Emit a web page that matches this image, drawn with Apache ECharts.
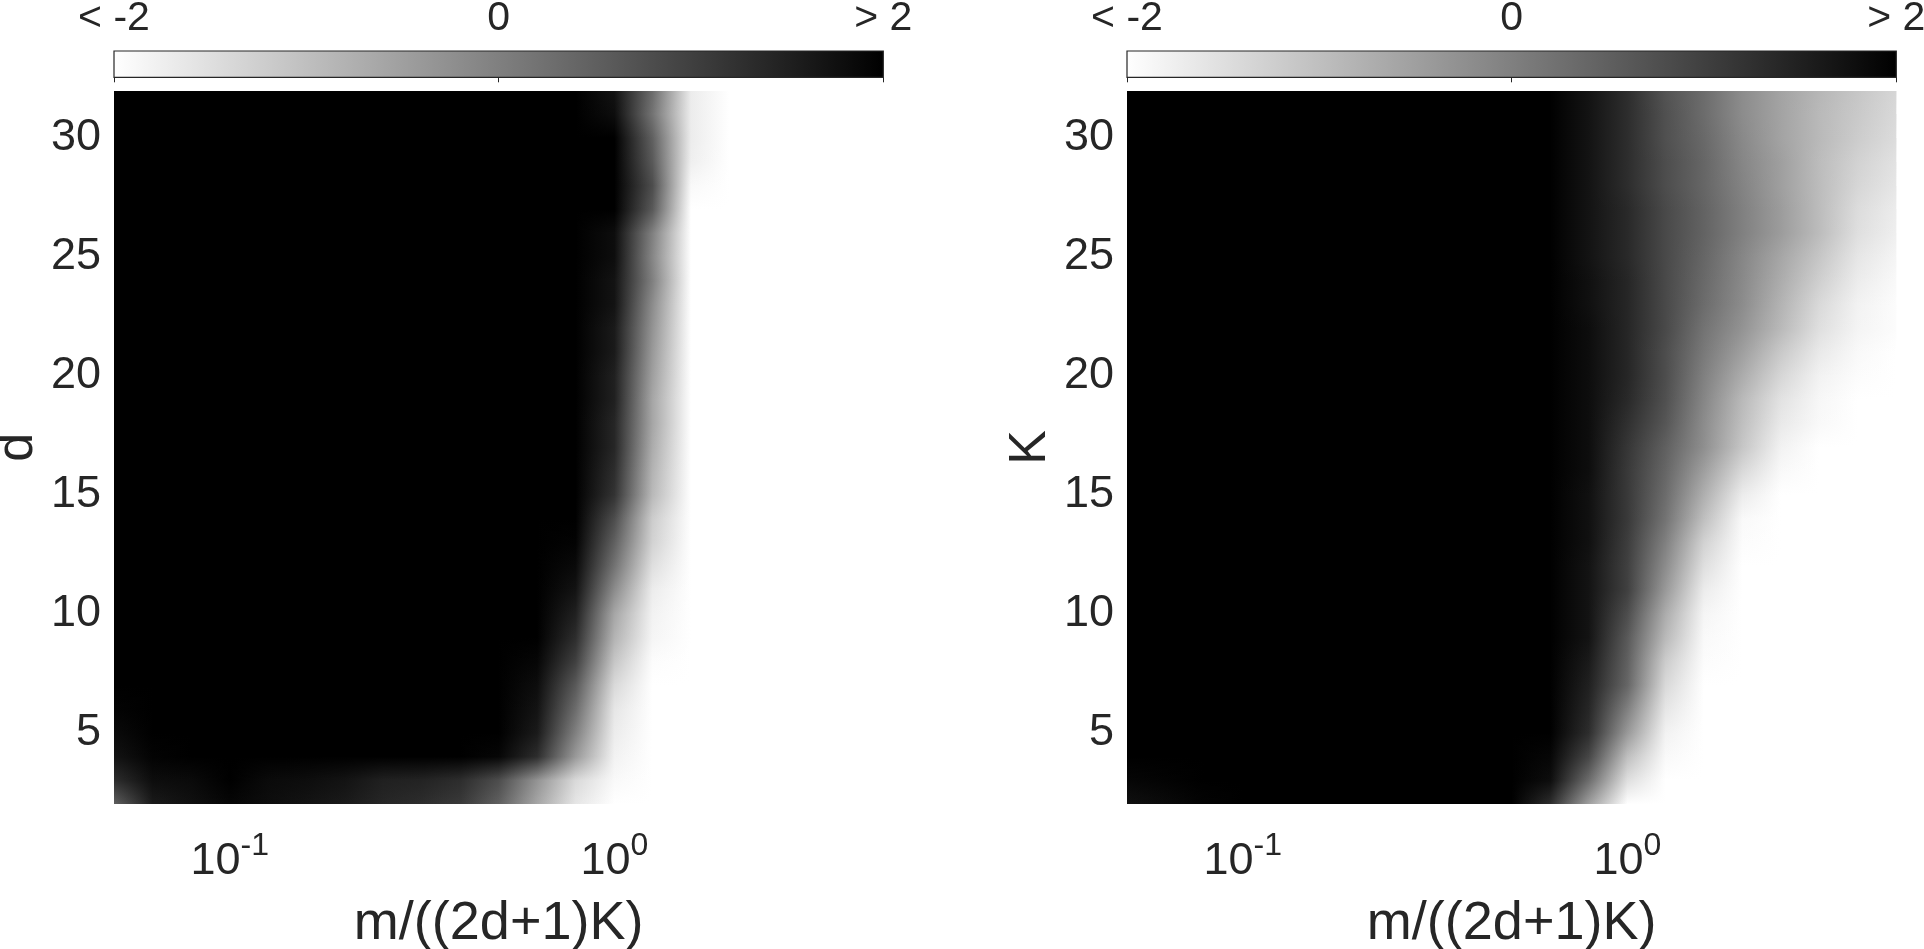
<!DOCTYPE html>
<html>
<head>
<meta charset="utf-8">
<script src="https://cdn.jsdelivr.net/npm/echarts@6/dist/echarts.min.js"></script>
<style>
html,body{margin:0;padding:0;background:#ffffff;}
#chart{width:1924px;height:949px;}
</style>
</head>
<body>
<div id="chart"></div>
<script>
// ---------------- data ----------------
// x nodes (m/((2d+1)K)), log-spaced grid used for reading the image
const xNodes = [0.05, 0.063, 0.0792, 0.1, 0.1256, 0.1581, 0.1991, 0.2506, 0.3155, 0.3972, 0.5,
                0.6295, 0.7924, 1, 1.2559, 1.5811, 1.9905, 2.5059, 3.1548, 3.9716, 5];
// y rows (d for left panel, K for right panel)
const yRows = [2,3,4,5,6,7,8,9,10,11,12,13,14,15,16,17,18,19,20,21,22,23,24,25,26,27,28,29,30,31,32];

// left panel values (one row per y, bottom to top; one value per x node), clipped to [-2, 2]
const leftValues = [
  [0.5,1.6,1.75,1.9,1.8,1.7,1.6,1.4,1.3,1.1,0.5,-0.6,-1.6,-2,-2,-2,-2,-2,-2,-2,-2],
  [1.3,1.8,1.85,2,1.85,1.8,1.7,1.5,1.45,1.3,0.8,-0.3,-1.4,-1.9,-2,-2,-2,-2,-2,-2,-2],
  [1.7,1.95,2,2,2,2,2,2,2,2,1.9,1.3,-0.4,-1.8,-2,-2,-2,-2,-2,-2,-2],
  [1.85,2,2,2,2,2,2,2,2,2,2,1.6,0.0,-1.7,-2,-2,-2,-2,-2,-2,-2],
  [1.95,2,2,2,2,2,2,2,2,2,2,1.7,0.3,-1.6,-2,-2,-2,-2,-2,-2,-2],
  [2,2,2,2,2,2,2,2,2,2,2,1.8,0.6,-1.4,-2,-2,-2,-2,-2,-2,-2],
  [2,2,2,2,2,2,2,2,2,2,2,1.9,1.0,-1.1,-1.95,-2,-2,-2,-2,-2,-2],
  [2,2,2,2,2,2,2,2,2,2,2,2,1.3,-0.8,-1.85,-2,-2,-2,-2,-2,-2],
  [2,2,2,2,2,2,2,2,2,2,2,2,1.5,-0.6,-1.8,-2,-2,-2,-2,-2,-2],
  [2,2,2,2,2,2,2,2,2,2,2,2,1.7,-0.2,-1.7,-2,-2,-2,-2,-2,-2],
  [2,2,2,2,2,2,2,2,2,2,2,2,1.85,0.2,-1.5,-2,-2,-2,-2,-2,-2],
  [2,2,2,2,2,2,2,2,2,2,2,2,1.95,0.5,-1.3,-2,-2,-2,-2,-2,-2],
  [2,2,2,2,2,2,2,2,2,2,2,2,2,0.8,-1.2,-2,-2,-2,-2,-2,-2],
  [2,2,2,2,2,2,2,2,2,2,2,2,2,1.2,-0.9,-2,-2,-2,-2,-2,-2],
  [2,2,2,2,2,2,2,2,2,2,2,2,2,1.3,-0.8,-2,-2,-2,-2,-2,-2],
  [2,2,2,2,2,2,2,2,2,2,2,2,2,1.4,-0.7,-2,-2,-2,-2,-2,-2],
  [2,2,2,2,2,2,2,2,2,2,2,2,2,1.4,-0.6,-2,-2,-2,-2,-2,-2],
  [2,2,2,2,2,2,2,2,2,2,2,2,2,1.5,-0.6,-2,-2,-2,-2,-2,-2],
  [2,2,2,2,2,2,2,2,2,2,2,2,2,1.5,-0.5,-2,-2,-2,-2,-2,-2],
  [2,2,2,2,2,2,2,2,2,2,2,2,2,1.6,-0.4,-2,-2,-2,-2,-2,-2],
  [2,2,2,2,2,2,2,2,2,2,2,2,2,1.6,-0.3,-2,-2,-2,-2,-2,-2],
  [2,2,2,2,2,2,2,2,2,2,2,2,2,1.7,-0.2,-2,-2,-2,-2,-2,-2],
  [2,2,2,2,2,2,2,2,2,2,2,2,2,1.7,0.0,-2,-2,-2,-2,-2,-2],
  [2,2,2,2,2,2,2,2,2,2,2,2,2,1.8,-0.1,-2,-2,-2,-2,-2,-2],
  [2,2,2,2,2,2,2,2,2,2,2,2,2,1.8,0.0,-2,-2,-2,-2,-2,-2],
  [2,2,2,2,2,2,2,2,2,2,2,2,2,2,0.6,-2,-2,-2,-2,-2,-2],
  [2,2,2,2,2,2,2,2,2,2,2,2,2,2,0.8,-1.9,-2,-2,-2,-2,-2],
  [2,2,2,2,2,2,2,2,2,2,2,2,2,2,0.6,-1.75,-2,-2,-2,-2,-2],
  [2,2,2,2,2,2,2,2,2,2,2,2,2,2,0.5,-1.7,-2,-2,-2,-2,-2],
  [2,2,2,2,2,2,2,2,2,2,2,2,2,1.8,0.2,-1.7,-2,-2,-2,-2,-2],
  [2,2,2,2,2,2,2,2,2,2,2,2,2,1.7,0.3,-1.7,-2,-2,-2,-2,-2]
];

// right panel values (same layout)
const rightValues = [
  [1.75,1.85,1.95,2,2,2,2,2,2,2,2,1.3,-0.5,-2,-2,-2,-2,-2,-2,-2,-2],
  [1.9,1.95,2,2,2,2,2,2,2,2,2,1.8,0.3,-1.5,-2,-2,-2,-2,-2,-2,-2],
  [2,2,2,2,2,2,2,2,2,2,2,1.9,0.9,-1.0,-1.9,-2,-2,-2,-2,-2,-2],
  [2,2,2,2,2,2,2,2,2,2,2,2,1.3,-0.4,-1.8,-2,-2,-2,-2,-2,-2],
  [2,2,2,2,2,2,2,2,2,2,2,2,1.4,0.0,-1.6,-2,-2,-2,-2,-2,-2],
  [2,2,2,2,2,2,2,2,2,2,2,2,1.5,0.4,-1.4,-2,-2,-2,-2,-2,-2],
  [2,2,2,2,2,2,2,2,2,2,2,2,1.6,0.5,-1.2,-1.95,-2,-2,-2,-2,-2],
  [2,2,2,2,2,2,2,2,2,2,2,2,1.7,0.6,-0.9,-1.9,-2,-2,-2,-2,-2],
  [2,2,2,2,2,2,2,2,2,2,2,2,1.7,0.8,-0.7,-1.85,-2,-2,-2,-2,-2],
  [2,2,2,2,2,2,2,2,2,2,2,2,1.7,1.0,-0.4,-1.7,-2,-2,-2,-2,-2],
  [2,2,2,2,2,2,2,2,2,2,2,2,1.7,1.0,-0.2,-1.5,-2,-2,-2,-2,-2],
  [2,2,2,2,2,2,2,2,2,2,2,2,1.75,1.05,0.0,-1.3,-1.95,-2,-2,-2,-2],
  [2,2,2,2,2,2,2,2,2,2,2,2,1.75,1.1,0.2,-1.0,-1.9,-2,-2,-2,-2],
  [2,2,2,2,2,2,2,2,2,2,2,2,1.75,1.1,0.3,-0.75,-1.7,-2,-2,-2,-2],
  [2,2,2,2,2,2,2,2,2,2,2,2,1.8,1.1,0.4,-0.5,-1.4,-1.9,-2,-2,-2],
  [2,2,2,2,2,2,2,2,2,2,2,2,1.8,1.15,0.5,-0.25,-1.1,-1.8,-2,-2,-2],
  [2,2,2,2,2,2,2,2,2,2,2,2,1.8,1.25,0.65,-0.2,-1.0,-1.65,-1.9,-2,-2],
  [2,2,2,2,2,2,2,2,2,2,2,2,1.8,1.35,0.75,-0.1,-0.9,-1.55,-1.88,-2,-2],
  [2,2,2,2,2,2,2,2,2,2,2,2,1.8,1.4,0.8,0.0,-0.7,-1.35,-1.8,-1.95,-2],
  [2,2,2,2,2,2,2,2,2,2,2,2,1.8,1.4,0.8,0.1,-0.5,-1.15,-1.65,-1.9,-2],
  [2,2,2,2,2,2,2,2,2,2,2,2,1.8,1.4,0.85,0.2,-0.3,-0.9,-1.5,-1.82,-1.95],
  [2,2,2,2,2,2,2,2,2,2,2,2,1.75,1.4,0.85,0.3,-0.2,-0.8,-1.4,-1.8,-1.95],
  [2,2,2,2,2,2,2,2,2,2,2,2,1.75,1.4,0.85,0.35,-0.15,-0.7,-1.25,-1.7,-1.9],
  [2,2,2,2,2,2,2,2,2,2,2,2,1.7,1.35,0.85,0.4,-0.1,-0.6,-1.1,-1.6,-1.85],
  [2,2,2,2,2,2,2,2,2,2,2,2,1.7,1.35,0.85,0.45,0.0,-0.45,-0.95,-1.5,-1.75],
  [2,2,2,2,2,2,2,2,2,2,2,2,1.7,1.35,0.85,0.45,0.0,-0.45,-0.95,-1.45,-1.7],
  [2,2,2,2,2,2,2,2,2,2,2,2,1.7,1.3,0.8,0.4,-0.05,-0.5,-0.95,-1.35,-1.6],
  [2,2,2,2,2,2,2,2,2,2,2,2,1.7,1.3,0.8,0.4,-0.1,-0.5,-0.95,-1.3,-1.55],
  [2,2,2,2,2,2,2,2,2,2,2,2,1.7,1.3,0.75,0.35,-0.15,-0.55,-0.9,-1.2,-1.45],
  [2,2,2,2,2,2,2,2,2,2,2,2,1.7,1.3,0.75,0.3,-0.2,-0.55,-0.9,-1.15,-1.4],
  [2,2,2,2,2,2,2,2,2,2,2,2,1.7,1.3,0.7,0.3,-0.2,-0.55,-0.85,-1.1,-1.35]
];

const yTickValues = [5, 10, 15, 20, 25, 30];
const colorbarRange = [-2, 2];
const colorbarTicks = [-2, 0, 2];
const colorbarLabels = ['< -2', '0', '> 2'];
const xTitle = 'm/((2d+1)K)';
const leftYTitle = 'd';
const rightYTitle = 'K';

// ---------------- chart ----------------
const FONT = '"Liberation Sans", Arial, Helvetica, sans-serif';
const TXT = '#262626';
const nCols = xNodes.length;
const nRows = yRows.length;

function toData(rows) {
  const out = [];
  rows.forEach((row, r) => row.forEach((v, k) => out.push([xNodes[k], yRows[r], v, k, r])));
  return out;
}

function renderField(params, api) {
  const k = api.value(3), r = api.value(4);
  if (k !== 0 || r >= nRows - 1) return null;
  const base = params.dataIndexInside;
  const up = base + nCols;
  const pL = api.coord([api.value(0, base), api.value(1, base)]);
  const pR = api.coord([api.value(0, base + nCols - 1), api.value(1, base)]);
  const pT = api.coord([api.value(0, up), api.value(1, up)]);
  const x0 = pL[0], w = pR[0] - pL[0];
  function grad(start) {
    const stops = [];
    for (let j = 0; j < nCols; j++) {
      const px = api.coord([api.value(0, start + j), api.value(1, start)])[0];
      stops.push({ offset: Math.max(0, Math.min(1, (px - x0) / w)), color: api.visual('color', start + j) });
    }
    return { type: 'linear', x: 0, y: 0, x2: 1, y2: 0, colorStops: stops };
  }
  const gLow = grad(base), gHigh = grad(up);
  const yBot = pL[1], yTop = pT[1];
  const top = Math.round(yTop), bot = Math.round(yBot);
  const children = [];
  for (let py = top; py < bot; py++) {
    const t = Math.max(0, Math.min(1, (yBot - (py + 0.5)) / (yBot - yTop)));
    children.push({ type: 'rect', silent: true, shape: { x: x0, y: py, width: w, height: 1 }, style: { fill: gLow } });
    children.push({ type: 'rect', silent: true, shape: { x: x0, y: py, width: w, height: 1 }, style: { fill: gHigh, opacity: t } });
  }
  return { type: 'group', children: children };
}

function renderColorbar(params, api) {
  const p0 = api.coord([api.value(0), 0]);
  const p1 = api.coord([api.value(1), 1]);
  return {
    type: 'rect',
    shape: { x: p0[0], y: p1[1], width: p1[0] - p0[0], height: p0[1] - p1[1] },
    style: {
      fill: { type: 'linear', x: 0, y: 0, x2: 1, y2: 0,
              colorStops: [{ offset: 0, color: '#ffffff' }, { offset: 1, color: '#000000' }] },
      stroke: TXT, lineWidth: 1.2
    }
  };
}

function logLabel(v) {
  const e = Math.log10(v);
  const n = Math.round(e);
  if (Math.abs(e - n) > 1e-6) return '';
  return '{b|10}{s|' + n + '}';
}

function heatXAxis(gi) {
  return {
    gridIndex: gi, type: 'log', logBase: 10, min: 0.05, max: 5,
    axisLine: { show: false }, axisTick: { show: false }, splitLine: { show: false },
    axisLabel: {
      show: true, margin: 26, formatter: logLabel, showMinLabel: false, showMaxLabel: false,
      color: TXT, fontFamily: FONT,
      rich: {
        b: { fontSize: 45, lineHeight: 62, color: TXT, fontFamily: FONT },
        s: { fontSize: 32, lineHeight: 32, padding: [0, 0, 30, 0], color: TXT, fontFamily: FONT }
      }
    },
    name: xTitle, nameLocation: 'middle', nameGap: 88,
    nameTextStyle: { fontSize: 54, color: TXT, fontFamily: FONT }
  };
}

function heatYAxis(gi, title) {
  return {
    gridIndex: gi, type: 'value', min: 2, max: 32,
    axisLine: { show: false }, axisTick: { show: false }, splitLine: { show: false },
    axisLabel: { customValues: yTickValues, fontSize: 45, color: TXT, fontFamily: FONT, margin: 13, padding: [12, 0, 0, 0] },
    name: title, nameLocation: 'middle', nameRotate: 90, nameGap: 70,
    nameTextStyle: { fontSize: 52, color: TXT, fontFamily: FONT }
  };
}

function cbXAxis(gi) {
  return {
    gridIndex: gi, type: 'value', position: 'top', min: colorbarRange[0], max: colorbarRange[1], interval: 2,
    axisLine: { show: false }, splitLine: { show: false },
    axisTick: { show: true, inside: true, length: 5, lineStyle: { color: TXT, width: 1 } },
    axisLabel: {
      margin: 12, fontSize: 41, color: TXT, fontFamily: FONT, showMinLabel: true, showMaxLabel: true,
      formatter: function (v) { const i = colorbarTicks.indexOf(v); return i >= 0 ? colorbarLabels[i] : ''; }
    }
  };
}

function cbYAxis(gi) {
  return { gridIndex: gi, type: 'value', min: 0, max: 1, show: false };
}

function gridBox(left, top, height) {
  return { left: left, top: top, width: 769.3, height: height, containLabel: false, outerBoundsMode: 'none' };
}

const chart = echarts.init(document.getElementById('chart'), null, { renderer: 'canvas' });
chart.setOption({
  backgroundColor: '#ffffff',
  animation: false,
  textStyle: { fontFamily: FONT, color: TXT },
  grid: [
    gridBox(114, 90.5, 713.8),
    gridBox(1127, 90.5, 713.8),
    gridBox(114, 51, 26.3),
    gridBox(1127, 51, 26.3)
  ],
  xAxis: [heatXAxis(0), heatXAxis(1), cbXAxis(2), cbXAxis(3)],
  yAxis: [heatYAxis(0, leftYTitle), heatYAxis(1, rightYTitle), cbYAxis(2), cbYAxis(3)],
  visualMap: {
    type: 'continuous', show: false, min: -2, max: 2, dimension: 2, seriesIndex: [0, 1],
    inRange: { color: ['#ffffff', '#000000'] }
  },
  series: [
    { type: 'custom', xAxisIndex: 0, yAxisIndex: 0, data: toData(leftValues), renderItem: renderField, silent: true },
    { type: 'custom', xAxisIndex: 1, yAxisIndex: 1, data: toData(rightValues), renderItem: renderField, silent: true },
    { type: 'custom', xAxisIndex: 2, yAxisIndex: 2, data: [colorbarRange], renderItem: renderColorbar, silent: true },
    { type: 'custom', xAxisIndex: 3, yAxisIndex: 3, data: [colorbarRange], renderItem: renderColorbar, silent: true }
  ]
});
</script>
</body>
</html>
